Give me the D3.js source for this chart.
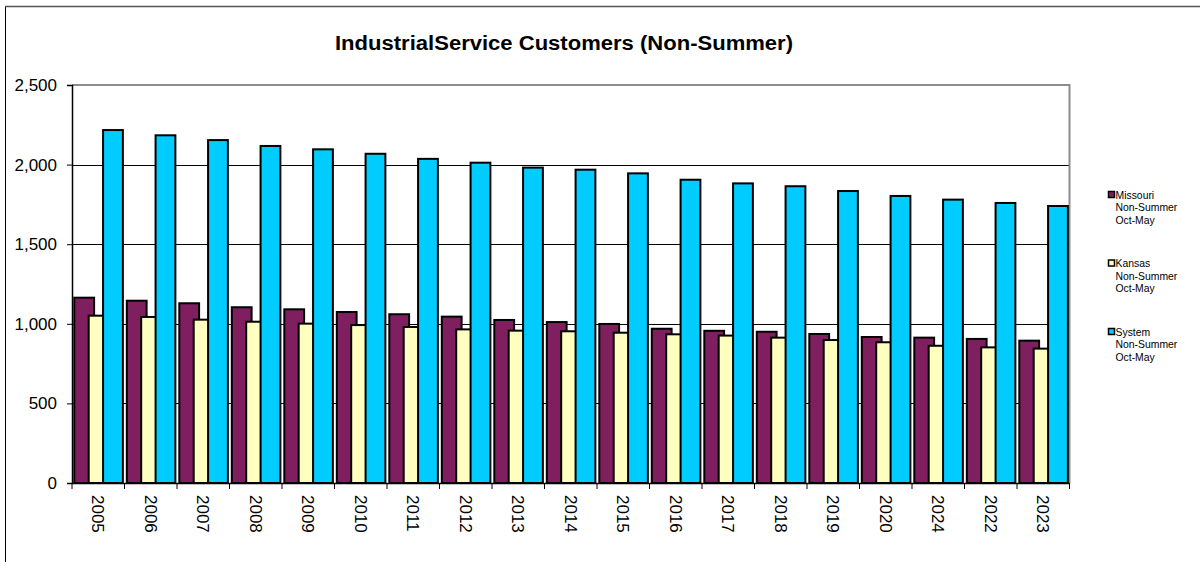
<!DOCTYPE html>
<html><head><meta charset="utf-8">
<script src="https://cdn.jsdelivr.net/npm/d3@7/dist/d3.min.js"></script>
<style>
html,body{margin:0;padding:0;background:#fff;}
svg{display:block;font-family:Arial,"Liberation Sans",sans-serif;}
</style></head>
<body><svg id="c" width="1200" height="562"></svg>
<script>
const categories = ["2005","2006","2007","2008","2009","2010","2011","2012","2013","2014","2015","2016","2017","2018","2019","2020","2024","2022","2023"];
const missouri = [1164,1145,1129,1104,1091,1074,1060,1045,1024,1011,999,969,956,950,936,917,913,905,894];
const kansas   = [1051,1043,1026,1013,1001,992,980,965,957,953,944,934,926,913,898,884,862,852,844];
const system   = [2217,2184,2154,2117,2096,2068,2036,2012,1981,1968,1945,1905,1882,1864,1834,1803,1780,1759,1740];
const seriesNames = [["Missouri","Non-Summer","Oct-May"],["Kansas","Non-Summer","Oct-May"],["System","Non-Summer","Oct-May"]];
const yTicks = [0,500,1000,1500,2000,2500];
const title = "IndustrialService Customers (Non-Summer)";

const colors = ["#7f1f5f","#ffffc0","#00ccff"];
const series = [missouri, kansas, system];

const svg = d3.select("#c");
const L = 72, R = 1069.5, T = 85, B = 483;

// outer chart border
svg.append("rect").attr("x",5.5).attr("y",6.5).attr("width",1210).attr("height",580)
  .attr("fill","none").attr("stroke","#000").attr("stroke-width",1);
svg.append("line").attr("x1",5).attr("x2",1200).attr("y1",6.5).attr("y2",6.5).attr("stroke","#555").attr("stroke-width",1.5);

const x = d3.scaleBand().domain(categories).range([L,R]).paddingInner(0).paddingOuter(0);
const y = d3.scaleLinear().domain([0,2500]).range([B,T]);
const bw = x.bandwidth();

// gridlines
svg.append("g").selectAll("line").data(yTicks.filter(t=>t>0 && t<2500)).join("line")
  .attr("x1",L).attr("x2",R).attr("y1",d=>Math.round(y(d))+0.5).attr("y2",d=>Math.round(y(d))+0.5)
  .attr("stroke","#000").attr("stroke-width",1);

// plot border top/right (gray)
svg.append("path").attr("d",`M${L},${T} H${R} V${B}`).attr("fill","none")
  .attr("stroke","#8c8c8c").attr("stroke-width",2);

// bars
series.forEach((vals,i)=>{
  svg.append("g").selectAll("rect").data(vals).join("rect")
    .attr("x",(d,j)=>x(categories[j]) + bw*(0.044 + i*0.274))
    .attr("width",bw*0.377)
    .attr("y",d=>y(d))
    .attr("height",d=>y(0)-y(d))
    .attr("fill",colors[i]).attr("stroke","#000").attr("stroke-width",2);
});

// y axis
const yAxis = d3.axisLeft(y).tickValues(yTicks).tickSize(5).tickPadding(10).tickFormat(d3.format(","));
const gy = svg.append("g").attr("transform",`translate(${L},0)`).call(yAxis);
gy.select(".domain").attr("stroke","#000").attr("stroke-width",1.5);
gy.selectAll(".tick line").attr("stroke","#000");
gy.selectAll("text").attr("font-size","17px").attr("fill","#000").attr("font-family","Arial,'Liberation Sans',sans-serif");

// x axis
const xAxis = d3.axisBottom(x).tickSize(0).tickPadding(0);
const gx = svg.append("g").attr("transform",`translate(0,${B})`).call(xAxis);
gx.select(".domain").attr("stroke","#000").attr("stroke-width",1.5);
gx.selectAll("text").attr("font-size","17px").attr("fill","#000").attr("font-family","Arial,'Liberation Sans',sans-serif")
  .attr("transform","rotate(90)").attr("text-anchor","start").attr("dy","0.35em").attr("x",12).attr("y",0);
// boundary ticks
const bounds = categories.map(c=>x(c)).concat([R]);
svg.append("g").selectAll("line").data(bounds).join("line")
  .attr("x1",d=>d).attr("x2",d=>d).attr("y1",B).attr("y2",B+6).attr("stroke","#000").attr("stroke-width",1);

// title
svg.append("text").attr("x",564).attr("y",50).attr("text-anchor","middle")
  .attr("font-size","19.5px").attr("font-weight","bold").attr("fill","#000")
  .attr("textLength",458).attr("lengthAdjust","spacingAndGlyphs").text(title);

// legend
const lg = svg.append("g");
seriesNames.forEach((lines,i)=>{
  const cy = 195 + i*68.5;
  lg.append("rect").attr("x",1108.5).attr("y",cy-3.5).attr("width",6).attr("height",6)
    .attr("fill",colors[i]).attr("stroke","#000").attr("stroke-width",1.5);
  lines.forEach((t,k)=>{
    lg.append("text").attr("x",1115.5).attr("y",cy + k*12.5).attr("dy","0.35em")
      .attr("font-size","10.4px").attr("fill","#000").text(t);
  });
});
</script></body></html>
